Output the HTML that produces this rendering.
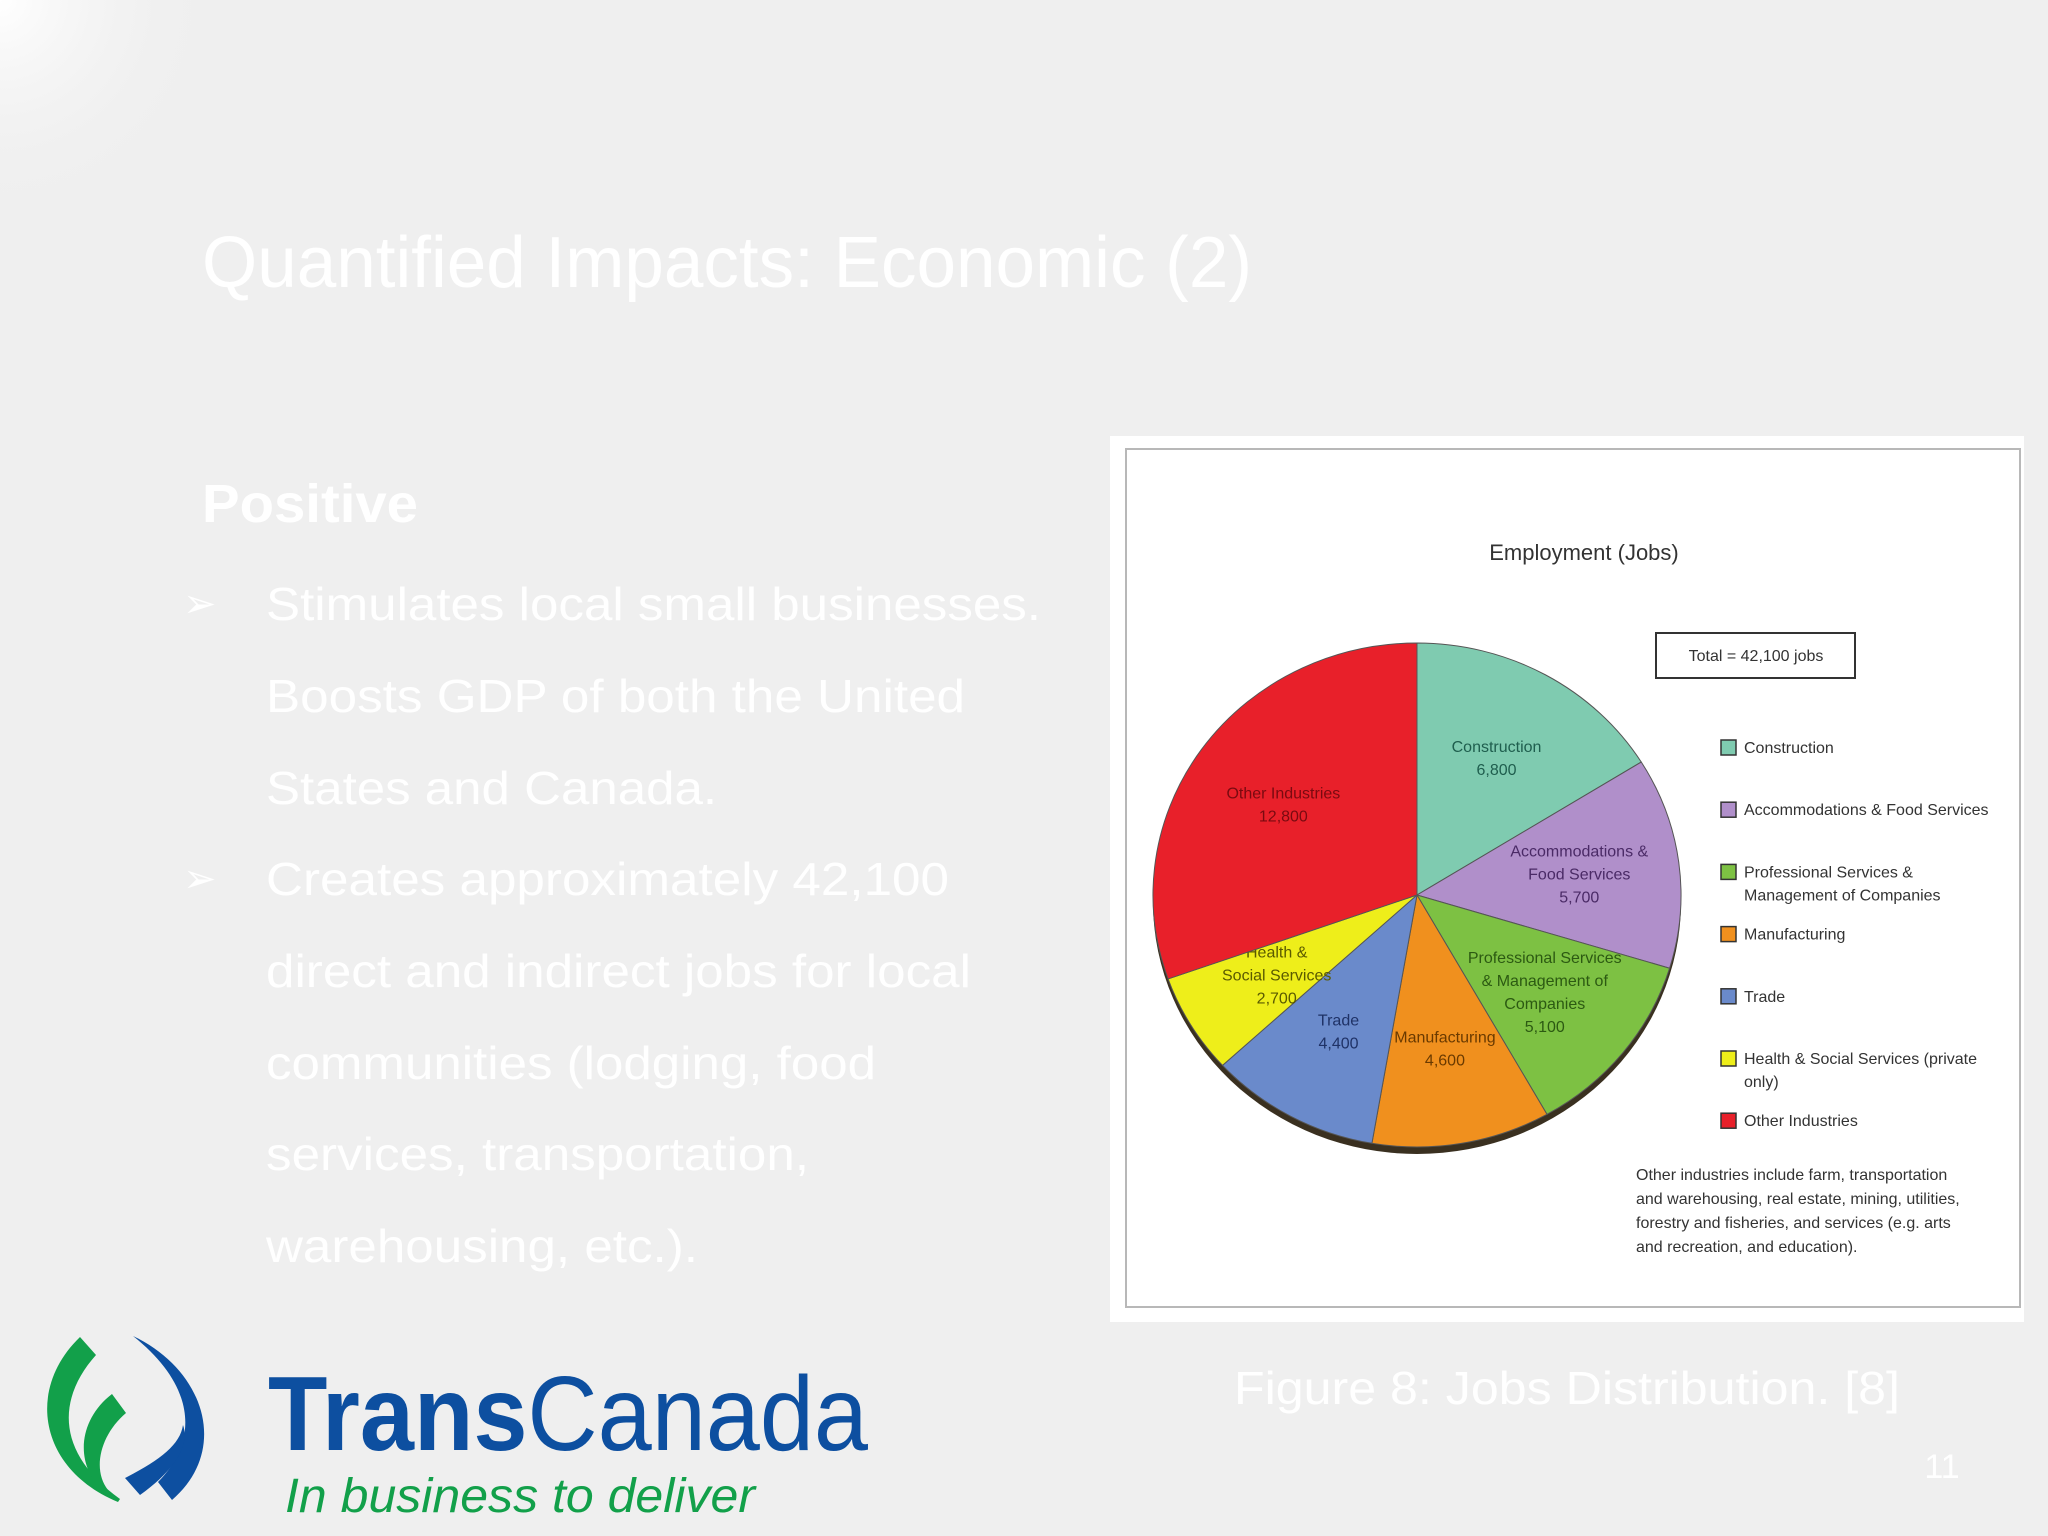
<!DOCTYPE html>
<html><head><meta charset="utf-8">
<style>
html,body{margin:0;padding:0;}
body{width:2048px;height:1536px;overflow:hidden;background:#efefef;font-family:"Liberation Sans",sans-serif;}
svg{display:block;}
</style></head>
<body>
<svg width="2048" height="1536" viewBox="0 0 2048 1536" xmlns="http://www.w3.org/2000/svg">
<defs>
<radialGradient id="glow" cx="0" cy="0" r="1">
<stop offset="0" stop-color="#ffffff"/>
<stop offset="1" stop-color="#efefef" stop-opacity="0"/>
</radialGradient>
</defs>
<rect width="2048" height="1536" fill="#efefef"/>
<rect width="220" height="220" fill="url(#glow)"/>

<text x="202" y="287" font-size="72" fill="#ffffff" textLength="1050" lengthAdjust="spacingAndGlyphs">Quantified Impacts: Economic (2)</text>
<text x="202" y="522" font-size="54" font-weight="bold" fill="#ffffff" textLength="216" lengthAdjust="spacingAndGlyphs">Positive</text>

<g fill="#ffffff" font-size="46">
<text x="183" y="617" font-size="40">➢</text>
<text x="266" y="620" textLength="775" lengthAdjust="spacingAndGlyphs">Stimulates local small businesses.</text>
<text x="266" y="712" textLength="699" lengthAdjust="spacingAndGlyphs">Boosts GDP of both the United</text>
<text x="266" y="804" textLength="451" lengthAdjust="spacingAndGlyphs">States and Canada.</text>
<text x="183" y="892" font-size="40">➢</text>
<text x="266" y="895" textLength="683" lengthAdjust="spacingAndGlyphs">Creates approximately 42,100</text>
<text x="266" y="987" textLength="705" lengthAdjust="spacingAndGlyphs">direct and indirect jobs for local</text>
<text x="266" y="1079" textLength="610" lengthAdjust="spacingAndGlyphs">communities (lodging, food</text>
<text x="266" y="1170" textLength="543" lengthAdjust="spacingAndGlyphs">services, transportation,</text>
<text x="266" y="1262" textLength="432" lengthAdjust="spacingAndGlyphs">warehousing, etc.).</text>
</g>

<!-- chart panel -->
<rect x="1110" y="436" width="914" height="886" fill="#ffffff"/>
<rect x="1126" y="449" width="894" height="858" fill="#ffffff" stroke="#b8b8b8" stroke-width="2"/>
<text x="1584" y="560" font-size="22" fill="#333" text-anchor="middle">Employment (Jobs)</text>
<rect x="1656" y="633" width="199" height="45" fill="#fff" stroke="#333" stroke-width="2"/>
<text x="1756" y="661" font-size="16" fill="#333" text-anchor="middle">Total = 42,100 jobs</text>

<g id="pie"></g>
<g id="legend"></g>

<g font-size="16" fill="#333">
<text x="1636" y="1180">Other industries include farm, transportation</text>
<text x="1636" y="1204">and warehousing, real estate, mining, utilities,</text>
<text x="1636" y="1228">forestry and fisheries, and services (e.g. arts</text>
<text x="1636" y="1252">and recreation, and education).</text>
</g>

<text x="1567" y="1404" font-size="46" fill="#ffffff" text-anchor="middle" textLength="666" lengthAdjust="spacingAndGlyphs">Figure 8: Jobs Distribution. [8]</text>
<text x="1942" y="1478" font-size="34" fill="#ffffff" text-anchor="middle">11</text>

<!-- logo -->
<g>
<path d="M80 1337 L96 1355 C60 1395 52 1450 120 1499 L118 1502 C40 1470 25 1390 80 1337 Z" fill="#12a04a"/>
<path d="M112 1394 L126 1413 C100 1435 92 1470 108 1490 L104 1492 C74 1465 78 1420 112 1394 Z" fill="#12a04a"/>
<path d="M133 1336 C205 1370 230 1450 172 1500 L158 1482 C200 1440 195 1385 133 1336 Z" fill="#0d4fa0"/>
<path d="M183 1425 C190 1445 175 1470 140 1495 L125 1478 C160 1460 180 1445 183 1425 Z" fill="#0d4fa0"/>
<text x="268" y="1450" font-size="106" fill="#0d4fa0" textLength="600" lengthAdjust="spacingAndGlyphs"><tspan font-weight="bold">Trans</tspan>Canada</text>
<text x="285" y="1512" font-size="48" font-style="italic" fill="#12a04a" textLength="470" lengthAdjust="spacingAndGlyphs">In business to deliver</text>
</g>
</svg>
<script>
const categories = ["Construction","Accommodations & Food Services","Professional Services & Management of Companies","Manufacturing","Trade","Health & Social Services","Other Industries"];
const values = [6800, 5700, 5100, 4600, 4400, 2700, 12800];
const valueLabels = ["6,800","5,700","5,100","4,600","4,400","2,700","12,800"];
const sliceLabelLines = [["Construction"],["Accommodations &","Food Services"],["Professional Services","& Management of","Companies"],["Manufacturing"],["Trade"],["Health &","Social Services"],["Other Industries"]];
const legendLabels = [["Construction"],["Accommodations & Food Services"],["Professional Services &","Management of Companies"],["Manufacturing"],["Trade"],["Health & Social Services (private","only)"],["Other Industries"]];
const colors = ["#7fcbb0","#b08fca","#7dc143","#f0901e","#6a8acb","#eeee1a","#e8202a"];
const textColors = ["#1f5e4e","#4a2a66","#2c5a12","#6a3a00","#1f3266","#5a5a00","#7a0a10"];

const NS = "http://www.w3.org/2000/svg";
const cx = 1417, cy = 895, rx = 264, ry = 252;
const total = values.reduce((a,b)=>a+b,0);
function angleOf(v){ return v/total*2*Math.PI; }
function pt(a,k){ return [cx + rx*k*Math.sin(a), cy - ry*k*Math.cos(a)]; }
const pie = document.getElementById('pie');

const depth = document.createElementNS(NS,'ellipse');


depth.setAttribute('cx',cx); depth.setAttribute('cy',cy+7);
depth.setAttribute('rx',rx); depth.setAttribute('ry',ry);
depth.setAttribute('fill','#3a3020');
pie.appendChild(depth);

let a0 = 0;
values.forEach((v,i)=>{
  const a1 = a0 + angleOf(v);
  const p0 = pt(a0,1), p1 = pt(a1,1);
  const large = (a1-a0) > Math.PI ? 1 : 0;
  const path = document.createElementNS(NS,'path');
  
  
  path.setAttribute('d',`M${cx},${cy} L${p0[0]},${p0[1]} A${rx},${ry} 0 ${large} 1 ${p1[0]},${p1[1]} Z`);
  path.setAttribute('fill',colors[i]);
  path.setAttribute('stroke','#555');
  path.setAttribute('stroke-width','1');
  pie.appendChild(path);
  const mid = (a0+a1)/2;
  const lp = pt(mid, 0.62);
  const lines = sliceLabelLines[i].concat([valueLabels[i]]);
  const t = document.createElementNS(NS,'text');
  
  
  t.setAttribute('x',lp[0]); t.setAttribute('font-size','16');
  t.setAttribute('fill',textColors[i]); t.setAttribute('text-anchor','middle');
  const y0 = lp[1] - (lines.length-1)*23/2 + 5;
  lines.forEach((ln,j)=>{
    const ts = document.createElementNS(NS,'tspan');
    ts.setAttribute('x',lp[0]); ts.setAttribute('y',y0 + j*23);
    ts.textContent = ln; t.appendChild(ts);
  });
  pie.appendChild(t);
  a0 = a1;
});

const legend = document.getElementById('legend');
const legendY = [748,810,871,935,997,1058,1121];
categories.forEach((c,i)=>{
  const y = legendY[0] + i*62.2;
  const r = document.createElementNS(NS,'rect');
  
  
  r.setAttribute('x',1721); r.setAttribute('y',y-8); r.setAttribute('width',15); r.setAttribute('height',15);
  r.setAttribute('fill',colors[i]); r.setAttribute('stroke','#333'); r.setAttribute('stroke-width','1.5');
  legend.appendChild(r);
  const t = document.createElementNS(NS,'text');
  
  
  t.setAttribute('font-size','16'); t.setAttribute('fill','#333');
  legendLabels[i].forEach((ln,j)=>{
    const ts = document.createElementNS(NS,'tspan');
    ts.setAttribute('x',1744); ts.setAttribute('y',y+5+j*23);
    ts.textContent = ln; t.appendChild(ts);
  });
  legend.appendChild(t);
});
</script>
</body></html>
